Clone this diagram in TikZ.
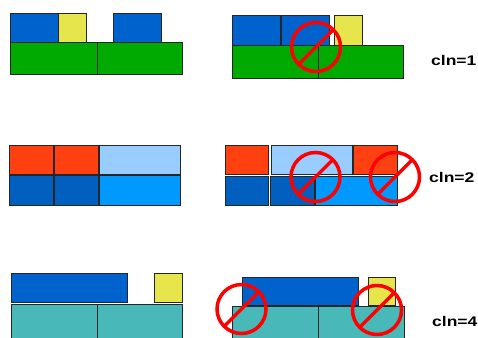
\documentclass[tikz,border=0pt]{standalone}
\usepackage{fontspec}
\setmainfont{Liberation Sans}
\definecolor{cblue}{HTML}{0062CC}
\definecolor{cyellow}{HTML}{E6E64C}
\definecolor{cgreen}{HTML}{00AA00}
\definecolor{corange}{HTML}{FF4010}
\definecolor{clight}{HTML}{99CCFF}
\definecolor{ccyan}{HTML}{0099FF}
\definecolor{cdblue}{HTML}{005FBF}
\definecolor{cteal}{HTML}{48B8B8}
\definecolor{cred}{HTML}{FF0000}
\begin{document}
\begin{tikzpicture}[x=1pt,y=-1pt,
  blk/.style={draw=black!85, line width=0.8pt},
  nosign/.style={circle, draw=cred, line width=3.5pt, minimum size=49pt, inner sep=0pt, outer sep=0pt},
  slash/.style={draw=cred, line width=3.5pt},
  lbl/.style={anchor=base west, inner sep=0pt, font=\bfseries\fontsize{14}{16}\selectfont}]
\useasboundingbox (0,0) rectangle (478,337);
\clip (0,0) rectangle (478,337);
% row 1 left
\draw[blk, fill=cblue] (10,13) rectangle (58,42);
\draw[blk, fill=cyellow] (58,13) rectangle (86,42);
\draw[blk, fill=cblue] (113,13) rectangle (161,42);
\draw[blk, fill=cgreen] (10,42) rectangle (97,74);
\draw[blk, fill=cgreen] (97,42) rectangle (182,74);
% row 1 right
\draw[blk, fill=cblue] (232,15) rectangle (280,45);
\draw[blk, fill=cblue] (281,15) rectangle (329,45);
\draw[blk, fill=cyellow] (334,15) rectangle (362,45);
\draw[blk, fill=cgreen] (232,45) rectangle (318,78);
\draw[blk, fill=cgreen] (318,45) rectangle (403,78);
% row 2 left
\draw[blk, fill=corange] (9,145) rectangle (53,174);
\draw[blk, fill=corange] (54,145) rectangle (98,174);
\draw[blk, fill=clight] (99,145) rectangle (180,174);
\draw[blk, fill=cdblue] (9,175) rectangle (53,205);
\draw[blk, fill=cdblue] (54,175) rectangle (98,205);
\draw[blk, fill=ccyan] (99,175) rectangle (180,205);
% row 2 right
\draw[blk, fill=corange] (225,145) rectangle (268,174);
\draw[blk, fill=clight] (271,145) rectangle (352,174);
\draw[blk, fill=corange] (353,145) rectangle (397,174);
\draw[blk, fill=cdblue] (225,176) rectangle (268,205);
\draw[blk, fill=cdblue] (270,176) rectangle (314,205);
\draw[blk, fill=ccyan] (315,176) rectangle (397,205);
% row 3 left
\draw[blk, fill=cblue] (11,273) rectangle (127,302);
\draw[blk, fill=cyellow] (154,273) rectangle (182,302);
\draw[blk, fill=cteal] (11,304) rectangle (97,342);
\draw[blk, fill=cteal] (97,304) rectangle (182,342);
% row 3 right
\draw[blk, fill=cblue] (242,277) rectangle (358,305);
\draw[blk, fill=cyellow] (368,277) rectangle (395,305);
\draw[blk, fill=cteal] (232,306) rectangle (318,342);
\draw[blk, fill=cteal] (318,306) rectangle (404,342);
% no signs
\node[nosign] (n1) at (316,47) {};
\draw[slash] (n1.225) -- (n1.45);
\node[nosign] (n2) at (315.5,177) {};
\draw[slash] (n2.225) -- (n2.45);
\node[nosign] (n3) at (395,177) {};
\draw[slash] (n3.225) -- (n3.45);
\node[nosign] (n4) at (241.5,309) {};
\draw[slash] (n4.225) -- (n4.45);
\node[nosign] (n5) at (377,310) {};
\draw[slash] (n5.225) -- (n5.45);
% labels
\node[lbl] (l1) at (431,65) {\scalebox{1.25}[1]{cln=1}};
\node[lbl] (l2) at (429,182) {\scalebox{1.25}[1]{cln=2}};
\node[lbl] (l3) at (432,326) {\scalebox{1.25}[1]{cln=4}};
\end{tikzpicture}
\end{document}
